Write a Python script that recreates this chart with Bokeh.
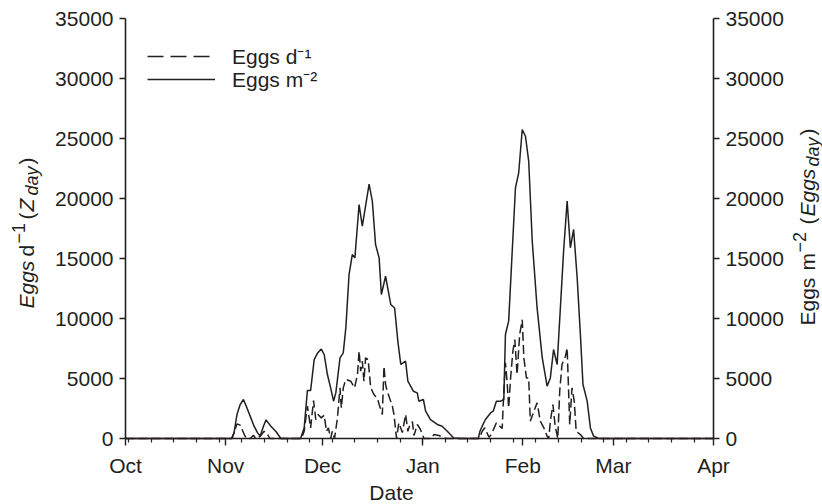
import numpy as np
from bokeh.plotting import figure
from bokeh.models import Range1d, LinearAxis, FixedTicker, Label, Legend, LegendItem
from bokeh.embed import file_html
from bokeh.resources import INLINE

# ---------------- data (days since 1 Oct) ----------------
month_ticks = [0, 31, 61, 92, 123, 151, 182]
month_labels = ["Oct", "Nov", "Dec", "Jan", "Feb", "Mar", "Apr"]
week_ticks = list(range(1, 182, 7))
y_ticks = [0, 5000, 10000, 15000, 20000, 25000, 30000, 35000]

# Eggs m-2 (solid)
eggs_m2_day = [0, 32.8, 33.6, 34.5, 35.5, 36.5, 37.6, 38.8, 39.8, 40.9, 41.7, 42.7, 43.5, 45, 46.5, 48.1,
               54.2, 55.3, 56.3, 57.3, 58.4, 59.4, 60.6, 61.5, 62.5, 63.5, 64.4, 65.1, 66.4, 67.4, 68.2,
               69.2, 70.2, 71, 72.3, 73.3, 75.4, 76.4, 77.4, 78.5, 79.2, 80.5, 82.1, 83.3, 84.3, 85.2,
               86.7, 87.4, 89.1, 90.3, 90.8, 92.2, 92.9, 94.4, 96.5, 98, 99.6, 101.6, 103.7,
               109.2, 109.7, 110.4, 111.4, 113, 113.8, 114.8, 116.1, 117.1, 117.6, 118.6, 119.7, 120.7,
               121.7, 122.8, 123.8, 124.8, 125.9, 127.4, 129, 130.5, 131.5, 132.5, 133.6, 134.6, 135.6,
               136.7, 137.7, 138.7, 139.8, 140.8, 141.6, 142.9, 143.9, 144.9, 146.5, 182]
eggs_m2 = [0, 0, 470, 2000, 2830, 3250, 2550, 1720, 1025, 470, 200, 1025, 1550, 1025, 600, 0,
           0, 880, 4000, 4000, 6580, 7100, 7450, 7000, 5330, 4220, 3110, 3800, 6720, 7130, 9220,
           13670, 15330, 15050, 19500, 17700, 21200, 19780, 16170, 15050, 12000, 13520, 11170, 10880, 8100, 6170,
           6440, 4775, 3940, 3800, 3110, 3250, 2275, 1580, 1170, 1025, 600, 50, 0,
           0, 600, 1025, 1580, 2130, 2275, 3110, 3110, 3250, 8670, 9780, 15600, 20880,
           22130, 25750, 25190, 23110, 16440, 10880, 6720, 4360, 5050, 7420, 6170, 10880, 15600,
           19780, 15890, 17420, 13390, 8670, 4500, 3110, 880, 200, 0, 0]

# Eggs d-1 (dashed)
eggs_d_day = [0, 33, 33.6, 34.5, 35.5, 37, 37.4, 38.6, 39.6, 40.3, 41.7, 42.9, 43.7, 44.7,
              54.5, 55.3, 56.3, 57.3, 58.2, 58.9, 59.6, 60.6, 61.5, 62.2, 62.8, 63.5, 64, 64.7, 65.6,
              66.4, 66.8, 67.4, 68.2, 69.7, 70.9, 71.8, 72.3, 72.8, 73.3, 73.8, 74.3, 75.1, 75.9,
              76.9, 78.1, 78.5, 79.5, 80, 80.5, 81, 82.6, 83.1, 83.9, 84.6, 85.7, 86.7, 87.4, 88.1,
              88.8, 89.3, 90.3, 91.3, 92.4, 94.5, 95.5, 97, 98.5, 99.5,
              109.5, 110.4, 111.2, 112.5, 113.2, 114.8, 116.6, 117.1, 117.6, 118.1, 118.6, 119.2,
              119.9, 120.5, 121.2, 122, 122.8, 123.3, 124.1, 124.8, 125.3, 126.4, 127.4, 128.4,
              129.5, 130.5, 131, 131.5, 132.3, 133, 133.8, 134.4, 135.1, 136.2, 136.7, 137.5,
              138.2, 138.9, 139.5, 140.8, 141.8, 182]
eggs_d = [0, 0, 470, 1220, 1110, 190, 0, 0, 270, 0, 190, 600, 470, 0,
          0, 600, 2700, 880, 3170, 1580, 2000, 1720, 1940, 600, 880, 0, 600, 0, 1720,
          4220, 2550, 4220, 4920, 4775, 4220, 5330, 7300, 5610, 6440, 4775, 6720, 6580, 4220,
          3670, 3250, 2830, 2000, 6020, 4500, 3940, 2690, 2000, 0, 1300, 500, 2000, 600, 1200,
          1400, 250, 1170, 750, 0, 0, 330, 250, 50, 0,
          0, 600, 900, 100, 330, 1300, 830, 3940, 6300, 4775, 2550, 5050,
          7270, 8250, 5330, 8670, 9900, 6720, 5050, 5050, 1440, 2275, 2970, 1440,
          880, 200, 0, 1440, 2830, 1025, 0, 3940, 6170, 6860, 7550, 1170,
          4220, 3110, 600, 330, 0, 0]

legend_labels = ["Eggs d\u207b\u00b9", "Eggs m\u207b\u00b2"]
x_title = "Date"

# ---------------- geometry / styling ----------------
INK = "#231f20"
FONT = "Liberation Sans"
FS = "21px"
SS = "18px"
W, H = 822, 504
# page pixels of the data box: x 0..182 -> 125..713 ; y 0..35000 -> 438..18
PL, PR, PT, PB = 125, 713, 18, 438
X0, X1, Y0, Y1 = 0, 182, 0, 35000
DX = (X1 - X0) / (PR - PL)      # data units per pixel (x)
DY = (Y1 - Y0) / (PB - PT)      # data units per pixel (y)

# the frame covers the whole canvas; axes are pinned to the data box
p = figure(width=W, height=H,
           x_range=Range1d(X0 - PL * DX, X1 + (W - PR) * DX),
           y_range=Range1d(Y0 - (H - PB) * DY, Y1 + PT * DY),
           x_axis_location=None, y_axis_location=None,
           output_backend="svg", toolbar_location=None,
           min_border_left=0, min_border_right=0, min_border_top=0, min_border_bottom=0)
p.outline_line_color = None
for g in p.grid:
    g.visible = False


def style_axis(ax):
    ax.axis_line_color = INK
    ax.axis_line_width = 1.6
    ax.major_tick_line_color = INK
    ax.major_tick_line_width = 1.4
    ax.minor_tick_line_color = INK
    ax.minor_tick_line_width = 1.2
    ax.major_tick_in = 0
    ax.minor_tick_in = 0
    ax.major_label_text_font = FONT
    ax.major_label_text_font_size = FS
    ax.major_label_text_color = INK


for loc, side in ((X0, "left"), (X1, "right")):
    ax = LinearAxis(fixed_location=loc, bounds=(Y0, Y1), ticker=FixedTicker(ticks=y_ticks))
    style_axis(ax)
    ax.major_tick_out = 6
    ax.minor_tick_out = 0
    ax.major_label_standoff = 6
    p.add_layout(ax, side)

xa = LinearAxis(fixed_location=Y0, bounds=(X0, X1),
                ticker=FixedTicker(ticks=month_ticks, minor_ticks=week_ticks))
style_axis(xa)
xa.major_label_overrides = {t: l for t, l in zip(month_ticks, month_labels)}
xa.major_tick_out = 7
xa.minor_tick_out = 4
xa.major_label_standoff = 8
p.add_layout(xa, "below")

solid = p.line(eggs_m2_day, eggs_m2, line_color=INK, line_width=1.5)
p.line(eggs_d_day, eggs_d, line_color=INK, line_width=1.5, line_dash="9 4")
dash_key = p.line([np.nan], [np.nan], line_color=INK, line_width=1.5, line_dash="16 7")


def make_legend(label, renderer, page_x, page_bottom):
    lg = Legend(items=[LegendItem(label=label, renderers=[renderer])],
                location=(page_x, H - page_bottom), orientation="vertical",
                border_line_color=None, background_fill_alpha=0,
                padding=0, margin=0, spacing=0,
                glyph_width=68, glyph_height=20, label_height=20, label_standoff=17,
                label_text_font=FONT, label_text_font_size=FS, label_text_color=INK)
    p.add_layout(lg)


make_legend(legend_labels[0], dash_key, 147, 70)
make_legend(legend_labels[1], solid, 147, 93)

BASE_FIX = 10   # renderer draws the glyph box ~10px lower than the nominal baseline


def put_text(page_x, page_y, text, style="normal", size=FS, angle=0.0, align="left"):
    """Place a text at a page pixel position (baseline anchor)."""
    p.add_layout(Label(x=X0 + (page_x - PL) * DX, y=Y0 + (PB - page_y) * DY, text=text, angle=angle,
                       text_font=FONT, text_font_style=style, text_font_size=size,
                       text_color=INK, text_align=align, text_baseline="alphabetic"))


def title_pieces(base_x, pieces):
    # vertical titles read bottom-to-top; each piece: text, style, size, raise, start (page y)
    for text, style, size, shift, start in pieces:
        put_text(base_x - BASE_FIX - shift, start, text, style, size, angle=np.pi / 2)


# x axis title
put_text(391, 502 - BASE_FIX, x_title, align="center")

# left title: Eggs d^-1 (Z_day)
title_pieces(36, [
    ("Eggs", "italic", FS, 0, 308),
    ("d", "normal", FS, 0, 256),
    ("\u22121", "normal", SS, 8, 243),
    ("(", "normal", FS, 0, 219),
    ("Z", "italic", FS, 0, 211),
    ("day", "italic", SS, -5, 195),
    (")", "normal", FS, 0, 164),
])

# right title: Eggs m^-2 (Eggs_day)
title_pieces(817, [
    ("Eggs", "normal", FS, 0, 325),
    ("m", "normal", FS, 0, 270),
    ("\u22122", "normal", SS, 8, 252),
    ("(", "normal", FS, 0, 224),
    ("Eggs", "italic", FS, 0, 216),
    ("day", "italic", SS, -5, 166),
    (")", "normal", FS, 0, 135),
])

open("out.html", "w").write(file_html(p, INLINE))
